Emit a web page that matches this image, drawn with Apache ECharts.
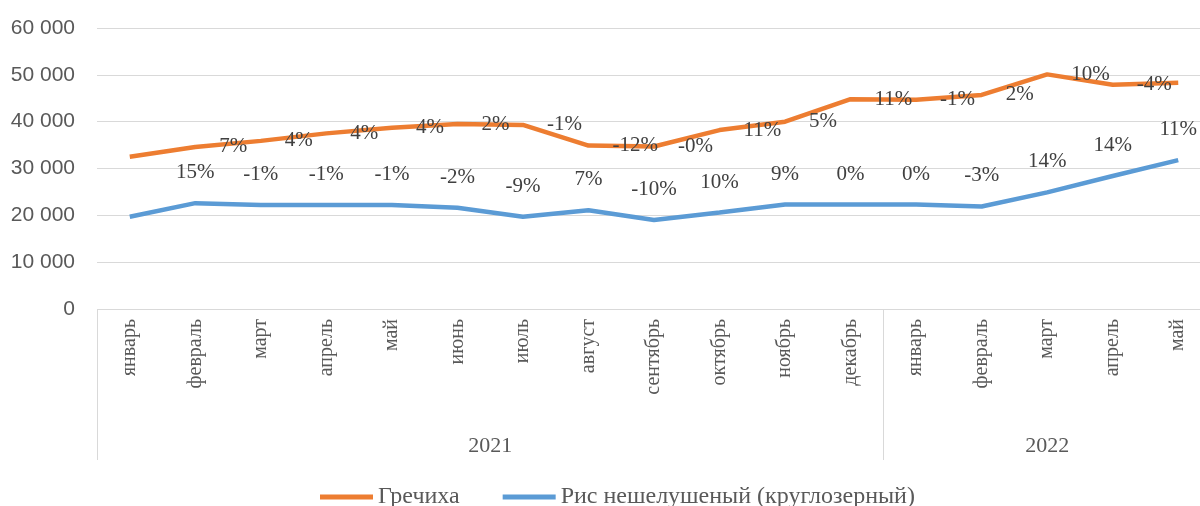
<!DOCTYPE html>
<html>
<head>
<meta charset="utf-8">
<script src="https://cdn.jsdelivr.net/npm/echarts@6/dist/echarts.min.js"></script>
<style>
html,body{margin:0;padding:0;background:#fff;}
#chart{width:1200px;height:506px;}
</style>
</head>
<body>
<div id="chart"></div>
<script>
// ---- data ----
const months = ['январь','февраль','март','апрель','май','июнь','июль','август','сентябрь','октябрь','ноябрь','декабрь','январь','февраль','март','апрель','май'];
const years = ['2021', '2022'];
const yearCounts = [12, 5];
const buckwheat = [32500, 34600, 35900, 37500, 38700, 39500, 39300, 34900, 34700, 38200, 40000, 44800, 44700, 45700, 50100, 47900, 48300];
const rice = [19700, 22600, 22200, 22200, 22200, 21600, 19700, 21100, 19000, 20600, 22300, 22300, 22300, 21900, 24900, 28400, 31800];
const buckwheatPct = ['', '7%', '4%', '4%', '4%', '2%', '-1%', '-12%', '-0%', '11%', '5%', '11%', '-1%', '2%', '10%', '-4%', ''];
const ricePct = ['', '15%', '-1%', '-1%', '-1%', '-2%', '-9%', '7%', '-10%', '10%', '9%', '0%', '0%', '-3%', '14%', '14%', '11%'];
const yTicks = [0, 10000, 20000, 30000, 40000, 50000, 60000];
const seriesNames = ['Гречиха', 'Рис нешелушеный (круглозерный)'];

// group boundaries and centers for the year level of the axis
const bounds = [0];
yearCounts.forEach(c => bounds.push(bounds[bounds.length - 1] + c));
const centers = yearCounts.map((c, i) => bounds[i] + c / 2);

const serif = 'Liberation Serif';
const chart = echarts.init(document.getElementById('chart'));
chart.setOption({
  animation: false,
  grid: { left: 97, width: 1114, top: 28, height: 281, containLabel: false, outerBoundsMode: 'none' },
  legend: {
    data: seriesNames,
    left: 315,
    top: 480,
    icon: 'rect',
    itemWidth: 53,
    itemHeight: 5,
    itemGap: 43,
    textStyle: { fontFamily: serif, fontSize: 24, color: '#595959' }
  },
  xAxis: [
    {
      type: 'category',
      data: months,
      boundaryGap: true,
      axisLine: { show: false },
      axisTick: { show: false },
      axisLabel: {
        interval: 0,
        rotate: 90,
        margin: 10,
        fontFamily: serif,
        fontSize: 20,
        color: '#595959'
      }
    },
    {
      type: 'value',
      min: 0,
      max: months.length,
      position: 'bottom',
      axisLine: { show: false },
      splitLine: { show: false },
      axisTick: {
        show: true,
        customValues: bounds,
        length: 151,
        lineStyle: { color: '#d9d9d9', width: 1 }
      },
      axisLabel: {
        customValues: centers,
        margin: 126,
        fontFamily: serif,
        fontSize: 22,
        color: '#595959',
        formatter: v => years[centers.indexOf(v)] || ''
      }
    }
  ],
  yAxis: {
    type: 'value',
    min: yTicks[0],
    max: yTicks[yTicks.length - 1],
    interval: yTicks[1] - yTicks[0],
    axisLine: { show: false },
    axisTick: { show: false },
    splitLine: { lineStyle: { color: '#d9d9d9', width: 1 } },
    axisLabel: {
      margin: 22,
      fontFamily: 'Liberation Sans',
      fontSize: 21,
      color: '#595959',
      formatter: v => String(v).replace(/\B(?=(\d{3})+(?!\d))/g, ' ')
    }
  },
  series: [
    {
      name: seriesNames[0],
      type: 'line',
      data: buckwheat,
      symbol: 'circle',
      symbolSize: 0,
      showSymbol: true,
      lineStyle: { color: '#ED7D31', width: 4.5 },
      itemStyle: { color: '#ED7D31' },
      label: {
        show: true,
        position: 'right',
        distance: 24,
        fontFamily: serif,
        fontSize: 21,
        color: '#404040',
        formatter: p => buckwheatPct[p.dataIndex]
      },
      z: 3
    },
    {
      name: seriesNames[1],
      type: 'line',
      data: rice,
      symbol: 'circle',
      symbolSize: 0,
      showSymbol: true,
      lineStyle: { color: '#5B9BD5', width: 4.5 },
      itemStyle: { color: '#5B9BD5' },
      label: {
        show: true,
        position: 'top',
        distance: 20,
        fontFamily: serif,
        fontSize: 21,
        color: '#404040',
        formatter: p => ricePct[p.dataIndex]
      },
      z: 2
    }
  ]
});
</script>
</body>
</html>
